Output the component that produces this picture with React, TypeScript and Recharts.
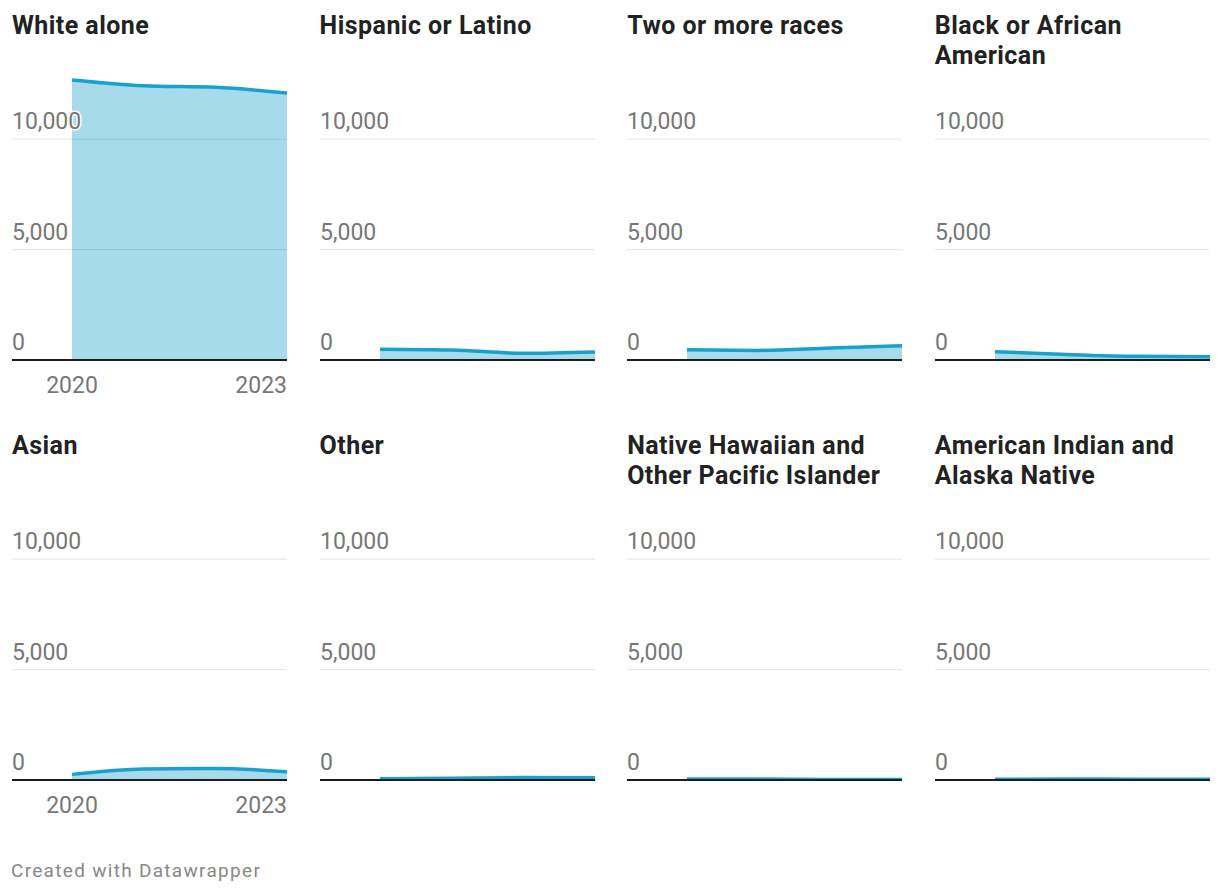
import React from "react";
import { AreaChart, Area, XAxis, YAxis, ReferenceLine } from "recharts";

const years = [2020, 2021, 2022, 2023];
const yTicks = [0, 5000, 10000];
const yMax = 13000;

const titles = [
  "White alone",
  "Hispanic or Latino",
  "Two or more races",
  "Black or African American",
  "Asian",
  "Other",
  "Native Hawaiian and Other Pacific Islander",
  "American Indian and Alaska Native",
];

const whiteAlone = [12680, 12420, 12350, 12090];
const hispanicOrLatino = [490, 455, 305, 365];
const twoOrMoreRaces = [465, 435, 545, 650];
const blackOrAfricanAmerican = [375, 250, 165, 145];
const asian = [255, 500, 525, 375];
const other = [60, 80, 110, 100];
const nativeHawaiian = [40, 40, 20, 20];
const americanIndian = [30, 50, 30, 30];

const seriesList = [
  whiteAlone,
  hispanicOrLatino,
  twoOrMoreRaces,
  blackOrAfricanAmerican,
  asian,
  other,
  nativeHawaiian,
  americanIndian,
];

const BLUE = "#18a1cd";
const FONT = "Roboto, 'Noto Sans', sans-serif";

const fmt = (v: number) => v.toLocaleString("en-US");

const makeYLabel = (value: number) => (props: any) => {
  const vb = props.viewBox || {};
  return (
    <text
      x={vb.x}
      y={vb.y}
      dy={-10}
      textAnchor="start"
      fill="#777"
      fontSize={23}
      fontFamily={FONT}
      stroke="#fff"
      strokeWidth={3}
      strokeLinejoin="round"
      paintOrder="stroke"
    >
      {fmt(value)}
    </text>
  );
};

const XTick = (props: any) => {
  const { x, y, payload, index } = props;
  const last = years.length - 1;
  if (index !== 0 && index !== last) return null;
  return (
    <text
      x={x}
      y={y}
      dy={33}
      textAnchor={index === last ? "end" : "middle"}
      fill="#777"
      fontSize={23}
      fontFamily={FONT}
    >
      {payload.value}
    </text>
  );
};

const Panel = ({ idx }: { idx: number }) => {
  const col = idx % 4;
  const row = Math.floor(idx / 4);
  const left = 12 + col * 307.6;
  const top = row * 420;
  const data = years.map((yr, i) => ({ year: yr, value: seriesList[idx][i] }));
  return (
    <>
      <div
        style={{
          position: "absolute",
          left,
          top: top + 11,
          width: 290,
          fontFamily: FONT,
          fontWeight: 700,
          fontSize: 25,
          letterSpacing: 0.45,
          lineHeight: "30px",
          color: "#222",
        }}
      >
        {titles[idx]}
      </div>
      <div style={{ position: "absolute", left, top: top + 70 }}>
        <AreaChart
          width={275}
          height={330}
          data={data}
          margin={{ top: 3, right: 0, bottom: 0, left: 0 }}
        >
          <XAxis
            dataKey="year"
            padding={{ left: 60, right: 0 }}
            height={40}
            tickSize={0}
            tickMargin={0}
            axisLine={false}
            tickLine={false}
            interval={0}
            tick={col === 0 ? <XTick /> : false}
          />
          <YAxis hide domain={[0, yMax]} ticks={yTicks} allowDataOverflow />
          <Area
            type="monotone"
            dataKey="value"
            stroke={BLUE}
            strokeWidth={3.5}
            fill={BLUE}
            fillOpacity={0.38}
            dot={false}
            activeDot={false}
            isAnimationActive={false}
          />
          {yTicks.map((t) => (
            <ReferenceLine
              key={t}
              y={t}
              stroke={t === 0 ? "#1d1d1d" : "rgba(0,0,0,0.1)"}
              strokeWidth={t === 0 ? 2 : 1}
              label={makeYLabel(t)}
            />
          ))}
        </AreaChart>
      </div>
    </>
  );
};

export default function App() {
  return (
    <div
      style={{
        position: "absolute",
        left: 0,
        top: 0,
        width: 1220,
        height: 896,
        background: "#fff",
        overflow: "hidden",
      }}
    >
      {titles.map((_, i) => (
        <Panel key={i} idx={i} />
      ))}
      <div
        style={{
          position: "absolute",
          left: 11,
          top: 861,
          fontFamily: FONT,
          fontSize: 19,
          letterSpacing: 1.3,
          lineHeight: "20px",
          color: "#888",
        }}
      >
        Created with Datawrapper
      </div>
    </div>
  );
}
